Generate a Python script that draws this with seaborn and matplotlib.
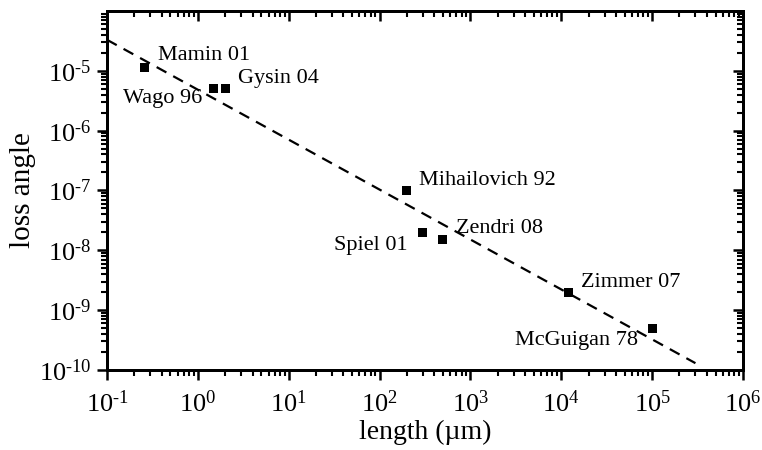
import numpy as np
import pandas as pd
import matplotlib
matplotlib.use("Agg")
import matplotlib.pyplot as plt
import seaborn as sns
from matplotlib.ticker import LogLocator, NullFormatter

# ---- data ----
labels = ["Mamin 01", "Wago 96", "Gysin 04", "Mihailovich 92", "Spiel 01",
          "Zendri 08", "Zimmer 07", "McGuigan 78"]
length_um = [0.26, 1.5, 2.0, 200, 300, 490, 12000, 1.0e5]
loss_angle = [1.15e-5, 5.0e-6, 5.0e-6, 1.0e-7, 2.0e-8, 1.5e-8, 2.0e-9, 5.0e-10]
fit_x = [0.1, 3.0e5]
fit_y = [3.3e-5, 1.3e-10]
# label offsets (pixels) and alignment
label_dx = [13, -12, 13, 12, -15, 14, 13, -14]
label_dy = [12, -10, 10, 10, -13, 11, 10, -12]
label_ha = ["left", "right", "left", "left", "right", "left", "left", "right"]

x_exponents = [-1, 0, 1, 2, 3, 4, 5, 6]
y_exponents = [-10, -9, -8, -7, -6, -5]
x_ticks = [10.0 ** e for e in x_exponents]
y_ticks = [10.0 ** e for e in y_exponents]


def exp_label(e):
    if e < 0:
        return r"$\mathregular{10^{\text{-}%d}}$" % (-e)
    return r"$\mathregular{10^{%d}}$" % e


x_ticklabels = [exp_label(e) for e in x_exponents]
y_ticklabels = [exp_label(e) for e in y_exponents]

df = pd.DataFrame({"length": length_um, "loss": loss_angle, "label": labels})
fit = pd.DataFrame({"x": fit_x, "y": fit_y})

sns.set_style("ticks")
plt.rcParams["font.family"] = ["Liberation Serif", "DejaVu Serif"]
plt.rcParams["mathtext.fontset"] = "custom"
plt.rcParams["mathtext.rm"] = "Liberation Serif"
plt.rcParams["mathtext.it"] = "Liberation Serif:italic"
plt.rcParams["text.color"] = "black"
plt.rcParams["axes.labelcolor"] = "black"

fig = plt.figure(figsize=(7.62, 4.5), dpi=100)
ax = fig.add_axes([0.1404, 0.1778, 0.975 - 0.1404, 0.9756 - 0.1778])

sns.lineplot(data=fit, x="x", y="y", ax=ax, color="black", linewidth=1.6,
             estimator=None, sort=False)
ax.lines[-1].set_dashes([5, 3.5])
sns.scatterplot(data=df, x="length", y="loss", ax=ax, marker="s", s=42,
                color="black", edgecolor="none", zorder=3)

ax.set_xscale("log")
ax.set_yscale("log")
ax.set_xlim(1e-1, 1e6)
ax.set_ylim(1e-10, 1e-4)

for lab, xv, yv, dx, dy, ha in zip(labels, length_um, loss_angle, label_dx, label_dy, label_ha):
    ax.annotate(lab, (xv, yv), xytext=(dx, dy), textcoords="offset pixels",
                ha=ha, va="center", fontsize=16, color="black")

minor_subs = np.arange(2, 10)


def style_axis(axis, ticks, labels_, show_labels):
    axis.set_ticks(ticks)
    if show_labels:
        axis.set_ticklabels(labels_)
    else:
        axis.set_ticklabels([])
    axis.set_minor_locator(LogLocator(base=10, subs=minor_subs, numticks=20))
    axis.set_minor_formatter(NullFormatter())


style_axis(ax.xaxis, x_ticks, x_ticklabels, True)
style_axis(ax.yaxis, y_ticks, y_ticklabels, True)
ax.tick_params(axis="both", which="major", direction="out", length=7, width=1.8,
               labelsize=19, colors="black")
ax.tick_params(axis="x", which="major", pad=8)
ax.tick_params(axis="y", which="major", pad=4)
ax.tick_params(axis="both", which="minor", direction="out", length=4, width=1.5,
               colors="black")

# mirrored ticks on top and right, pointing inward
ax_top = ax.twiny()
ax_top.set_xscale("log")
ax_top.set_xlim(ax.get_xlim())
style_axis(ax_top.xaxis, x_ticks, x_ticklabels, False)
ax_top.tick_params(axis="x", which="major", direction="in", length=7, width=1.8, colors="black")
ax_top.tick_params(axis="x", which="minor", direction="in", length=4, width=1.5, colors="black")

ax_right = ax.twinx()
ax_right.set_yscale("log")
ax_right.set_ylim(ax.get_ylim())
style_axis(ax_right.yaxis, y_ticks, y_ticklabels, False)
ax_right.tick_params(axis="y", which="major", direction="in", length=7, width=1.8, colors="black")
ax_right.tick_params(axis="y", which="minor", direction="in", length=4, width=1.5, colors="black")

for a in (ax, ax_top, ax_right):
    for sp in a.spines.values():
        sp.set_visible(True)
        sp.set_linewidth(2.0)
        sp.set_color("black")

ax.set_xlabel("length (\u00b5m)", fontsize=20, labelpad=2)
ax.set_ylabel("loss angle", fontsize=21, labelpad=2)

fig.savefig("out.png", dpi=100)
